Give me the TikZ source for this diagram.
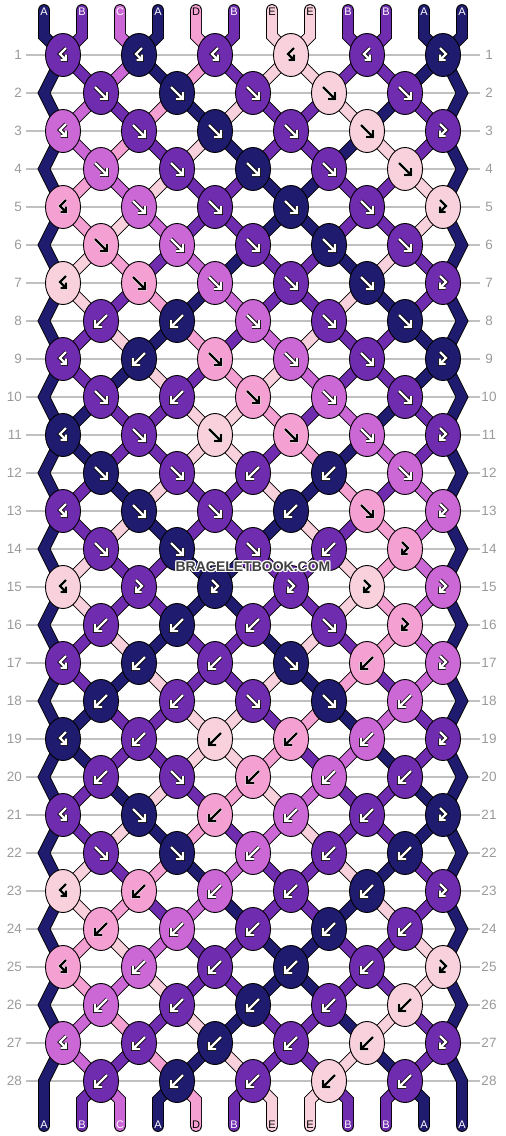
\documentclass[tikz,border=0pt]{standalone}
\usepackage{fontspec}
\setmainfont{Liberation Sans}
\usepackage{xstring}
\usetikzlibrary{shapes.geometric}
\definecolor{tA}{HTML}{1F1B6E}
\definecolor{tB}{HTML}{6F2CAE}
\definecolor{tC}{HTML}{CB68D6}
\definecolor{tD}{HTML}{F5A0D2}
\definecolor{tE}{HTML}{F9D1DD}
\definecolor{gridgrey}{HTML}{C0C0C0}
\definecolor{numgrey}{HTML}{9A9A9A}
\definecolor{wmgrey}{HTML}{404040}
\tikzset{
  thread/.style={draw=black, line width=0.9pt, double=#1, double distance=10pt, line join=miter},
  knot/.style={ellipse, draw=black, line width=0.9pt, fill=#1, minimum width=35pt, minimum height=43pt, inner sep=0pt},
  wglyph/.style={draw=black, line width=0.8pt, double=white, double distance=2.3pt, line join=miter},
  bglyph/.style={draw=white, line width=0.6pt, double=black, double distance=2.2pt, line join=miter},
  pics/gf/.style={code={\draw[#1] (-6,-6)--(5,5) (6,-1)--(6,6)--(-1,6);}},
  pics/gb/.style={code={\draw[#1] (6,-6)--(-5,5) (-6,-1)--(-6,6)--(1,6);}},
  pics/gL/.style={code={\draw[#1] (3,-7)--(-3,-1)--(2.2,4.2) (3,-0.5)--(3,5)--(-2.5,5);}},
  pics/gR/.style={code={\draw[#1] (-3,-7)--(3,-1)--(-2.2,4.2) (-3,-0.5)--(-3,5)--(2.5,5);}},
  gridline/.style={draw=gridgrey, line width=1.2pt},
  rownum/.style={text=numgrey, font=\fontsize{13.5}{14}\selectfont, inner sep=0pt},
  strlabel/.style={font=\fontsize{11}{11}\selectfont, inner sep=0pt},
  wmark/.style={font=\bfseries\fontsize{14}{14}\selectfont, inner sep=0pt},
}
\begin{document}
\begin{tikzpicture}[x=1pt,y=-1pt]
\useasboundingbox (0,0) rectangle (506,1136);
% grid lines and row numbers
\foreach \r in {1,...,28}{
  \pgfmathtruncatemacro\yy{55+38*(\r-1)}
  \draw[gridline] (26,\yy) -- (480,\yy);
  \node[rownum, anchor=east] (rl-\r) at (22,\yy) {\r};
  \node[rownum] (rr-\r) at (489,\yy) {\r};
}
% knot centres
\foreach \r in {1,...,28}{
  \pgfmathtruncatemacro\yy{55+38*(\r-1)}
  \pgfmathtruncatemacro\rpar{mod(\r,2)}
  \ifnum\rpar=1
    \foreach \k in {0,...,5}{\coordinate (c-\r-\k) at ({63+76*\k},\yy);}
  \else
    \foreach \k in {0,...,4}{\coordinate (c-\r-\k) at ({101+76*\k},\yy);}
  \fi
}
% edge threads
\draw[thread=tA, line cap=round] (44,10) -- (44,36)
  \foreach \r in {1,3,...,27}{ -- (c-\r-0) -- (44,{55+38*\r}) } -- (44,1126);
\draw[thread=tA, line cap=round] (462,10) -- (462,36)
  \foreach \r in {1,3,...,27}{ -- (c-\r-5) -- (462,{55+38*\r}) } -- (462,1126);
% top and bottom stubs
\foreach \i in {1,...,10}{
  \pgfmathtruncatemacro\j{\i+1}
  \pgfmathtruncatemacro\xx{44+38*\i}
  \StrChar{ABCADBEEBBAA}{\j}[\col]
  \pgfmathtruncatemacro\ka{floor(\i/2)}
  \pgfmathtruncatemacro\kb{floor((\i-1)/2)}
  \draw[thread=t\col, line cap=round] (\xx,10) -- (\xx,36) -- (c-1-\ka);
  \draw[thread=t\col, line cap=round] (c-28-\kb) -- (\xx,1100) -- (\xx,1126);
}
% interior threads
\foreach \r/\ord in {1/ABCADBEEBBAA,2/ACBDAEBBEABA,3/ACDBEABBAEBA,4/ADCEBBAABBEA,
  5/ADECBBAABBEA,6/AEDBCABBAEBA,7/AEBDACBBEABA,8/ABEADBCEBBAA,9/ABAEBDECBBAA,
  10/AABBEEDBCABA,11/AABBEEBDACBA,12/ABAEBBEADBCA,13/ABEABBAEBDCA,14/AEBBAABBEDCA,
  15/AEBBAABBEDCA,16/ABEABBAEBDCA,17/ABAEBBEADBCA,18/AABBEEBDACBA,19/AABBEEDBCABA,
  20/ABAEBDECBBAA,21/ABEADBCEBBAA,22/AEBDACBBEABA,23/AEDBCABBAEBA,24/ADECBBAABBEA,
  25/ADCEBBAABBEA,26/ACDBEABBAEBA,27/ACBDAEBBEABA}{
  \pgfmathtruncatemacro\rr{\r+1}
  \pgfmathtruncatemacro\rpar{mod(\r,2)}
  \foreach \i in {1,...,10}{
    \pgfmathtruncatemacro\j{\i+1}
    \StrChar{\ord}{\j}[\col]
    \ifnum\rpar=1
      \pgfmathtruncatemacro\ka{floor(\i/2)}
      \pgfmathtruncatemacro\kb{floor((\i-1)/2)}
    \else
      \pgfmathtruncatemacro\ka{floor((\i-1)/2)}
      \pgfmathtruncatemacro\kb{floor(\i/2)}
    \fi
    \draw[thread=t\col] (c-\r-\ka) -- (c-\rr-\kb);
  }
}
% knots
\foreach \r/\cols/\types in {1/BABEBA/LLLLLR,2/BABEB/fffff,3/CBABEB/LffffR,4/CBABE/fffff,
  5/DCBABE/LffffR,6/DCBAB/fffff,7/EDCBAB/LffffR,8/BACBA/bbfff,9/BADCBA/LbfffR,
  10/BBDCB/fbfff,11/ABEDCB/LffffR,12/ABBAC/ffbbf,13/BABADC/LffbfR,14/BABBD/fffbR,
  15/EBABEC/LRRRRR,16/BABBD/bbbfR,17/BABADC/LbbfbR,18/ABBAC/bbffb,19/ABEDCB/LbbbbR,
  20/BBDCB/bfbbb,21/BADCBA/LfbbbR,22/BACBA/ffbbb,23/EDCBAB/LbbbbR,24/DCBAB/bbbbb,
  25/DCBABE/LbbbbR,26/CBABE/bbbbb,27/CBABEB/LbbbbR,28/BABEB/bbbbb}{
  \StrLen{\cols}[\nk]
  \pgfmathtruncatemacro\nkm{\nk-1}
  \foreach \k in {0,...,\nkm}{
    \pgfmathtruncatemacro\j{\k+1}
    \StrChar{\cols}{\j}[\col]
    \StrChar{\types}{\j}[\ty]
    \node[knot=t\col] (n-\r-\k) at (c-\r-\k) {};
    \if\col D\def\gs{bglyph}\else\if\col E\def\gs{bglyph}\else\def\gs{wglyph}\fi\fi
    \edef\tmp{\noexpand\pic at (c-\r-\k) {g\ty=\gs};}\tmp
  }
}
% string labels
\foreach \i in {0,...,11}{
  \pgfmathtruncatemacro\j{\i+1}
  \pgfmathtruncatemacro\xx{44+38*\i}
  \StrChar{ABCADBEEBBAA}{\j}[\col]
  \if\col D\def\lc{black}\else\if\col E\def\lc{black}\else\def\lc{white}\fi\fi
  \node[strlabel, text=\lc] (lt-\i) at (\xx,12) {\col};
  \node[strlabel, text=\lc] (lb-\i) at (\xx,1125) {\col};
}
% watermark
\foreach \dx/\dy [count=\n] in {-1/-1,0/-1,1/-1,-1/0,1/0,-1/1,0/1,1/1}{
  \node[wmark, text=white] (wmh-\n) at ({253+\dx},{567+\dy}) {BRACELETBOOK.COM};
}
\node[wmark, text=wmgrey] (wm) at (253,567) {BRACELETBOOK.COM};
\end{tikzpicture}
\end{document}
